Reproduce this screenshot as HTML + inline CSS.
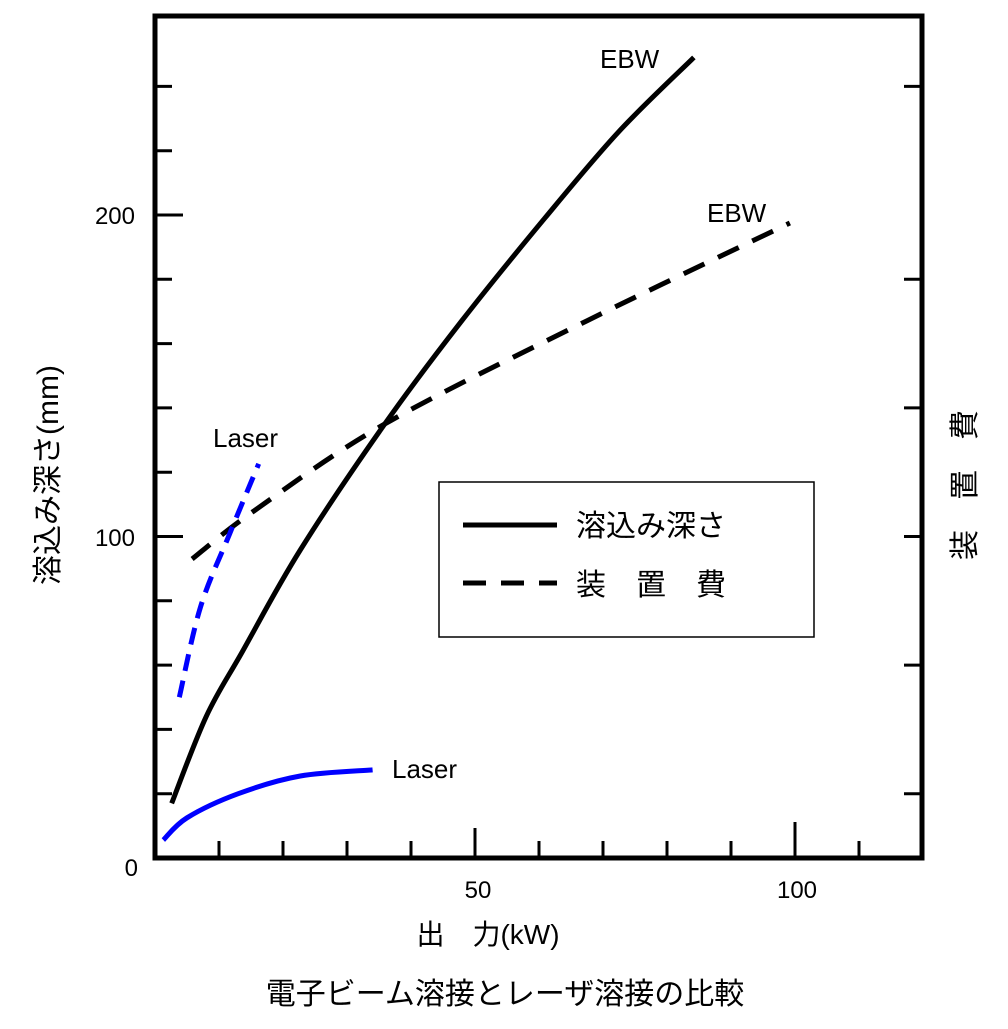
<!DOCTYPE html>
<html><head><meta charset="utf-8"><style>
body{margin:0;background:#fff;}
svg text{font-family:"Liberation Sans","Noto Sans CJK JP",sans-serif;fill:#000;}
</style></head><body>
<svg width="1008" height="1024" viewBox="0 0 1008 1024" xmlns="http://www.w3.org/2000/svg">
<g id="plot"></g>
<rect x="155" y="16" width="767" height="842" fill="none" stroke="#000" stroke-width="5"/>
<g id="ticks"></g>
<text x="135" y="224" font-size="24" text-anchor="end">200</text>
<text x="135" y="546" font-size="24" text-anchor="end">100</text>
<text x="138" y="876" font-size="24" text-anchor="end">0</text>
<text x="478" y="898" font-size="24" text-anchor="middle">50</text>
<text x="797" y="898" font-size="24" text-anchor="middle">100</text>
<text x="488" y="944" font-size="28" text-anchor="middle">出　力(kW)</text>
<text x="505" y="1004" font-size="30" text-anchor="middle">電子ビーム溶接とレーザ溶接の比較</text>
<text transform="translate(58,475) rotate(-90)" font-size="30" text-anchor="middle">溶込み深さ(mm)</text>
<text transform="translate(975,485) rotate(-90)" font-size="30" text-anchor="middle">装　置　費</text>
<text x="600" y="68" font-size="26">EBW</text>
<text x="707" y="222" font-size="26">EBW</text>
<text x="213" y="447" font-size="26">Laser</text>
<text x="392" y="778" font-size="26">Laser</text>
<g>
<rect x="439" y="482" width="375" height="155" fill="#fff" stroke="#000" stroke-width="1.5"/>
<line x1="463" y1="525" x2="557" y2="525" stroke="#000" stroke-width="5"/>
<text x="576" y="536" font-size="30">溶込み深さ</text>
<line x1="463" y1="583" x2="557" y2="583" stroke="#000" stroke-width="5" stroke-dasharray="23,15"/>
<text x="576" y="595" font-size="30">装　置　費</text>
</g>
</svg>
<script>
const ebwDepthX=[2.6,8,13.6,22.7,35.9,47.9,60.9,72.5,84.2];
const ebwDepthY=[17,44,64,95.8,135,167,199,226,249];
const ebwCostX=[5.8,15.5,35.9,67.4,99.2];
const ebwCostY=[93,108,135,167,197.5];
const laserCostX=[3.8,7.1,11.7,16.2];
const laserCostY=[50,78,101,122.6];
const laserDepthX=[1.3,5,13,22.7,34];
const laserDepthY=[5.6,12.5,20,25.5,27.4];
const xMinor=[10,20,30,40,60,70,80,90,110];
const xMajor=[50,100];
const yLeftTicks=[20,40,60,80,120,140,160,180,220,240];
const yLeftMajor=[100,200];
const yRightTicks=[20,60,100,140,180,240];
function sx(v){return 155+v*6.4;}
function sy(v){return 858-v*3.215;}
const NS='http://www.w3.org/2000/svg';
const plot=document.getElementById('plot'),ticks=document.getElementById('ticks');
function path(xs,ys,color,dash,name){
  const p=document.createElementNS(NS,'path');
  let d='M'+sx(xs[0])+','+sy(ys[0]);
  for(let i=1;i<xs.length;i++){
    const x0=sx(xs[i-1]),y0=sy(ys[i-1]),x1=sx(xs[i]),y1=sy(ys[i]);
    const xp=i>1?sx(xs[i-2]):x0,yp=i>1?sy(ys[i-2]):y0;
    const xn=i<xs.length-1?sx(xs[i+1]):x1,yn=i<xs.length-1?sy(ys[i+1]):y1;
    d+=' C'+(x0+(x1-xp)/6)+','+(y0+(y1-yp)/6)+' '+(x1-(xn-x0)/6)+','+(y1-(yn-y0)/6)+' '+x1+','+y1;
  }
  p.setAttribute('d',d);p.setAttribute('fill','none');p.setAttribute('stroke',color);
  p.setAttribute('stroke-width','5');
  if(dash)p.setAttribute('stroke-dasharray',dash);
  
  
  plot.appendChild(p);
}
path(ebwDepthX,ebwDepthY,'#000',null,'ebw-depth-line');
path(ebwCostX,ebwCostY,'#000','23,15','ebw-cost-line');
path(laserCostX,laserCostY,'#0000ff','17,10','laser-cost-line');
path(laserDepthX,laserDepthY,'#0000ff',null,'laser-depth-line');
function tick(x1,y1,x2,y2,name){
  const l=document.createElementNS(NS,'line');
  l.setAttribute('x1',x1);l.setAttribute('y1',y1);l.setAttribute('x2',x2);l.setAttribute('y2',y2);
  l.setAttribute('stroke','#000');l.setAttribute('stroke-width','3');
  
  
  ticks.appendChild(l);
}
xMinor.forEach(v=>tick(sx(v),858,sx(v),841,'x-tick'));
tick(sx(50),858,sx(50),828,'x-tick-major');
tick(sx(100),858,sx(100),822,'x-tick-major');
yLeftTicks.forEach(v=>tick(155,sy(v),172,sy(v),'y-tick'));
yLeftMajor.forEach(v=>tick(155,sy(v),183,sy(v),'y-tick-major'));
yRightTicks.forEach(v=>tick(922,sy(v),904,sy(v),'y-right-tick'));
</script>
</body></html>
